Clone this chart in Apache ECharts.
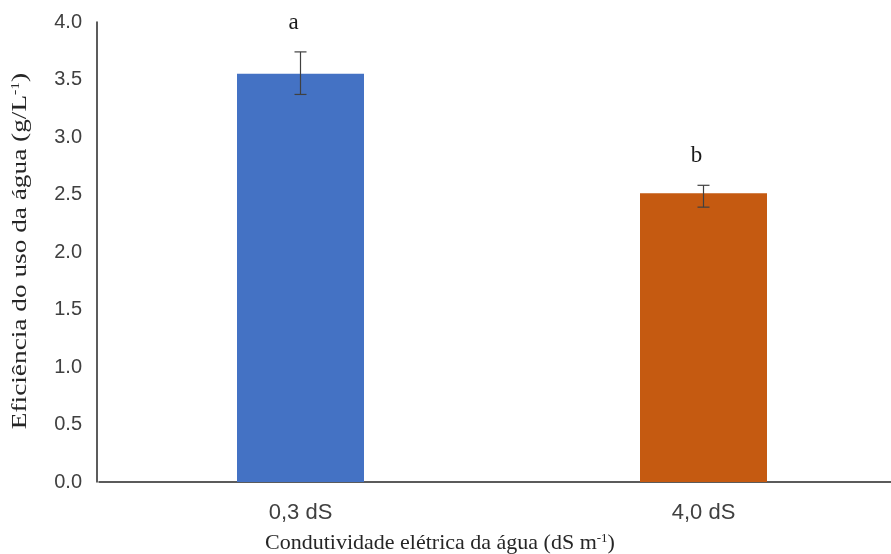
<!DOCTYPE html>
<html>
<head>
<meta charset="utf-8">
<script src="https://cdn.jsdelivr.net/npm/echarts@6/dist/echarts.min.js"></script>
<style>html,body{margin:0;padding:0;background:#fff}#c{width:891px;height:554px}</style>
</head>
<body>
<div id="c"></div>
<script>
const categories = ['0,3 dS', '4,0 dS'];
const values = [3.55, 2.51];
const errLow = [3.37, 2.39];
const errHigh = [3.74, 2.58];
const letters = ['a', 'b'];
const colors = ['#4472C4', '#C55A11'];
const yTicks = { min: 0, max: 4, interval: 0.5 };
const xTitle = 'Condutividade elétrica da água (dS m';
const yTitle = 'Eficiência do uso da água (g/L';

const chart = echarts.init(document.getElementById('c'), null, { renderer: 'canvas' });
const errData = categories.map((c, i) => [i, errLow[i], errHigh[i]]);
const supRich = {
  t: { fontFamily: 'Liberation Serif', fontSize: 22, color: '#262626' },
  s: { fontFamily: 'Liberation Serif', fontSize: 13, color: '#262626', verticalAlign: 'top', padding: [0, 0, 9, 0] }
};

chart.setOption({
  animation: false,
  grid: { left: 99, top: 22, width: 806, bottom: 72, outerBoundsMode: 'none', containLabel: false },
  xAxis: {
    type: 'category',
    data: categories,
    axisTick: { show: false },
    axisLine: { lineStyle: { color: '#262626', width: 1.5 } },
    axisLabel: { color: '#404040', fontFamily: 'Liberation Sans', fontSize: 22, margin: 20 },
    name: '{t|' + xTitle + '}{s|-1}{t|)}',
    nameLocation: 'middle',
    nameGap: 50,
    nameTextStyle: { rich: supRich, padding: [0, 124, 0, 0] }
  },
  yAxis: {
    type: 'value',
    offset: 2,
    min: yTicks.min, max: yTicks.max, interval: yTicks.interval,
    splitLine: { show: false },
    axisTick: { show: false },
    axisLine: { show: true, lineStyle: { color: '#262626', width: 1.5 } },
    axisLabel: { color: '#404040', fontFamily: 'Liberation Sans', fontSize: 20, margin: 15, formatter: v => v.toFixed(1) }
  },
  graphic: [{
    type: 'text',
    x: 20, y: 251,
    rotation: Math.PI / 2,
    scaleX: 1.3,
    style: {
      text: '{t|' + yTitle + '}{s|-1}{t|)}',
      rich: {
        t: { fontFamily: 'Liberation Serif', fontSize: 21, fill: '#262626' },
        s: { fontFamily: 'Liberation Serif', fontSize: 12, fill: '#262626', verticalAlign: 'top', padding: [0, 0, 9, 0] }
      },
      align: 'center', verticalAlign: 'middle'
    }
  }],
  series: [
    {
      type: 'bar',
      barWidth: 127,
      data: values.map((v, i) => ({ value: v, itemStyle: { color: colors[i] } }))
    },
    {
      type: 'custom',
      data: errData,
      z: 10,
      renderItem: function (params, api) {
        const x = api.value(0);
        const lo = api.coord([x, api.value(1)]);
        const hi = api.coord([x, api.value(2)]);
        const cap = 6;
        const st = { stroke: '#404040', lineWidth: 1.2 };
        return {
          type: 'group',
          children: [
            { type: 'line', shape: { x1: hi[0], y1: hi[1], x2: lo[0], y2: lo[1] }, style: st },
            { type: 'line', shape: { x1: hi[0] - cap, y1: hi[1], x2: hi[0] + cap, y2: hi[1] }, style: st },
            { type: 'line', shape: { x1: lo[0] - cap, y1: lo[1], x2: lo[0] + cap, y2: lo[1] }, style: st },
            { type: 'text', style: { text: letters[params.dataIndex], x: hi[0] - 7, y: hi[1] - 29, align: 'center', verticalAlign: 'middle', font: '23px "Liberation Serif"', fill: '#1a1a1a' } }
          ]
        };
      }
    }
  ]
});
</script>
</body>
</html>
